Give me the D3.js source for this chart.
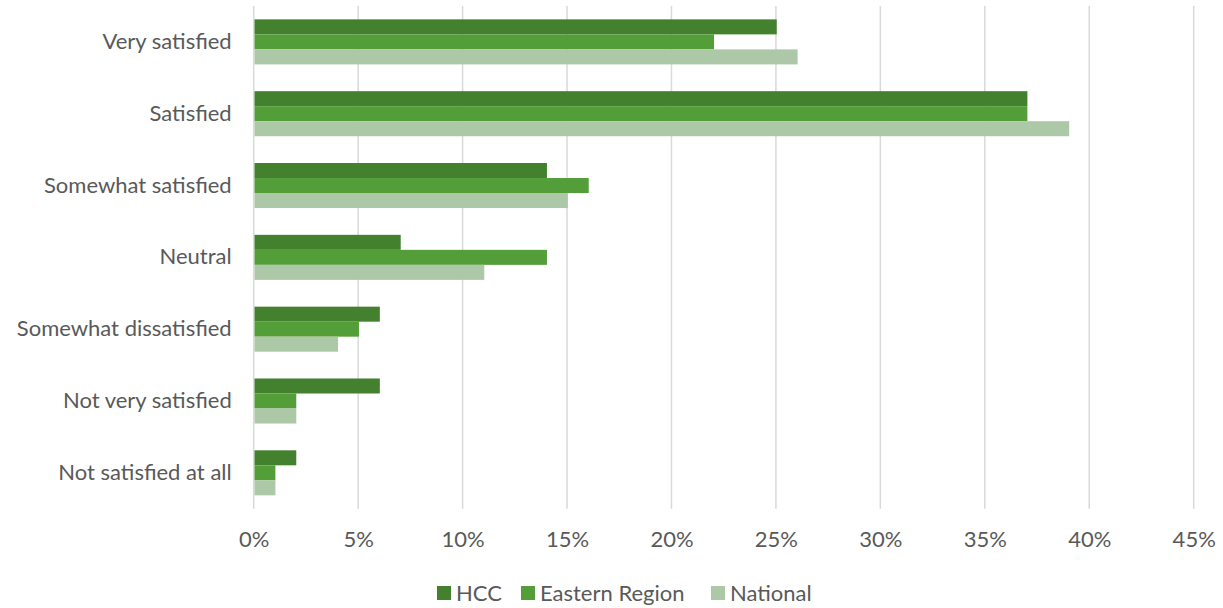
<!DOCTYPE html>
<html>
<head>
<meta charset="utf-8">
<script src="https://d3js.org/d3.v7.min.js"></script>
<style>
  html, body { margin: 0; padding: 0; background: #fff; }
  svg { display: block; }
  text { font-family: Lato, "Open Sans", sans-serif; fill: #595959; }
</style>
</head>
<body>
<svg id="chart" width="1223" height="608"></svg>
<script>
// Satisfaction responses by area
const categories = [
  "Very satisfied",
  "Satisfied",
  "Somewhat satisfied",
  "Neutral",
  "Somewhat dissatisfied",
  "Not very satisfied",
  "Not satisfied at all"
];
const seriesNames = ["HCC", "Eastern Region", "National"];
const hcc        = [25, 37, 14, 7, 6, 6, 2];
const eastern    = [22, 37, 16, 14, 5, 2, 1];
const national   = [26, 39, 15, 11, 4, 2, 1];
const xTicks = [0, 5, 10, 15, 20, 25, 30, 35, 40, 45];
const colors = ["#43812F", "#549E3A", "#ADC8A6"];

const seriesValues = [hcc, eastern, national];
const rows = categories.map((c, i) => ({
  category: c,
  values: seriesNames.map((s, j) => ({ series: s, value: seriesValues[j][i] }))
}));

const svg = d3.select("#chart");
const plotLeft = 253.7, plotRight = 1193.7, plotTop = 6, plotBottom = 508.7;
const fontSize = 22;
const fontStack = "Lato, 'Open Sans', sans-serif";

const x = d3.scaleLinear().domain([0, 45]).range([plotLeft, plotRight]);
const y = d3.scaleBand().domain(categories).range([plotTop, plotBottom])
  .paddingInner(0.373).paddingOuter(0.186);
const ySub = d3.scaleBand().domain(seriesNames).range([0, y.bandwidth()]);
const color = d3.scaleOrdinal().domain(seriesNames).range(colors);

// vertical gridlines
svg.append("g")
  .selectAll("line")
  .data(xTicks)
  .join("line")
  .attr("x1", d => x(d)).attr("x2", d => x(d))
  .attr("y1", plotTop).attr("y2", plotBottom)
  .attr("stroke", "#D9D9D9")
  .attr("stroke-width", 1.5);

// bars
svg.append("g")
  .selectAll("g")
  .data(rows)
  .join("g")
  .attr("transform", d => `translate(0,${y(d.category)})`)
  .selectAll("rect")
  .data(d => d.values)
  .join("rect")
  .attr("x", x(0) + 0.8)
  .attr("y", d => ySub(d.series))
  .attr("width", d => x(d.value) - x(0))
  .attr("height", ySub.bandwidth())
  .attr("fill", d => color(d.series));

// category axis labels
const yAxis = d3.axisLeft(y).tickSize(0).tickPadding(22);
const yg = svg.append("g").attr("transform", `translate(${plotLeft},0)`).call(yAxis);
yg.select(".domain").remove();
yg.selectAll("text").attr("font-size", fontSize).style("font-family", fontStack).attr("fill", "#595959");

// value axis labels
const xAxis = d3.axisBottom(x).tickValues(xTicks).tickSize(0).tickPadding(23)
  .tickFormat(d => d + "%");
const xg = svg.append("g").attr("transform", `translate(0,${plotBottom})`).call(xAxis);
xg.select(".domain").remove();
xg.selectAll("text").attr("font-size", fontSize).style("font-family", fontStack).attr("fill", "#595959");

// legend
const legendX = [437, 521, 711];
const legend = svg.append("g")
  .selectAll("g")
  .data(seriesNames)
  .join("g")
  .attr("transform", (d, i) => `translate(${legendX[i]},586)`);
legend.append("rect")
  .attr("width", 14).attr("height", 14)
  .attr("fill", d => color(d));
legend.append("text")
  .attr("x", 19).attr("y", 15)
  .attr("font-size", fontSize)
  .text(d => d);
</script>
</body>
</html>
